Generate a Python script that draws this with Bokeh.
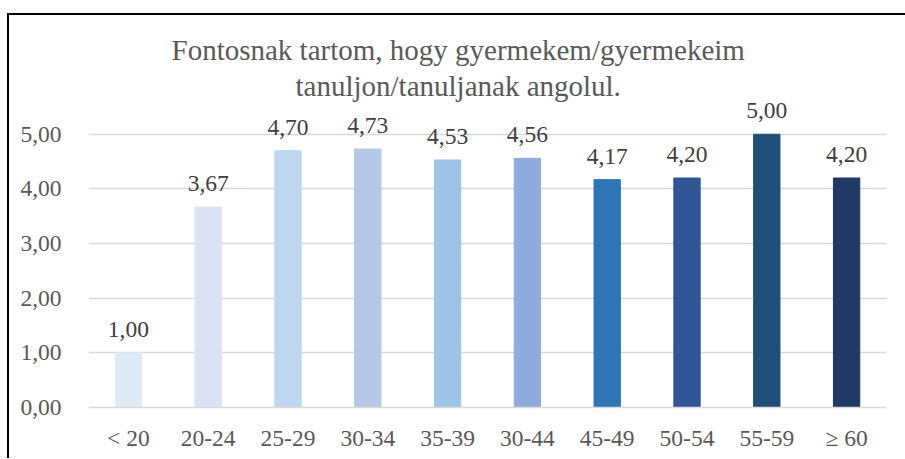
from bokeh.plotting import figure
from bokeh.models import ColumnDataSource, LabelSet, FixedTicker, Range1d, Title
from bokeh.core.properties import value
from bokeh.embed import file_html
from bokeh.resources import INLINE

categories = ["< 20", "20-24", "25-29", "30-34", "35-39", "30-44", "45-49", "50-54", "55-59", "≥ 60"]
values = [1.00, 3.67, 4.70, 4.73, 4.53, 4.56, 4.17, 4.20, 5.00, 4.20]
value_labels = ["1,00", "3,67", "4,70", "4,73", "4,53", "4,56", "4,17", "4,20", "5,00", "4,20"]
colors = ["#DEEBF7", "#DAE3F3", "#BDD7EE", "#B4C7E7", "#9DC3E6",
          "#8FAADC", "#2E75B6", "#2F5597", "#1F4E79", "#203864"]
y_ticks = [0, 1, 2, 3, 4, 5]
y_tick_labels = ["0,00", "1,00", "2,00", "3,00", "4,00", "5,00"]
title_lines = ["Fontosnak tartom, hogy gyermekem/gyermekeim", "tanuljon/tanuljanak angolul."]

FONT = "Liberation Serif"

src = ColumnDataSource(dict(cat=categories, val=values, lbl=value_labels, color=colors))

p = figure(x_range=categories, y_range=Range1d(0, 5.6),
           frame_width=798, frame_height=306,
           min_border_left=79, min_border_right=19, min_border_top=86, min_border_bottom=51,
           output_backend="svg", toolbar_location=None, title=None)
p.styles = {"border-left": "2px solid black", "border-top": "2px solid black",
            "margin-top": "13px", "margin-left": "7px"}
p.outline_line_color = None

p.vbar(x="cat", top="val", width=0.33, color="color", source=src)

labels = LabelSet(x="cat", y="val", text="lbl", source=src, text_align="center",
                  text_baseline="alphabetic", y_offset=16,
                  text_font=value(FONT), text_font_size=value("23.5px"), text_color="#404040")
p.add_layout(labels)

# second line first (closest to frame), then first line
p.add_layout(Title(text=title_lines[1], align="left", offset=207, standoff=0,
                   padding=(0, 0, 2, 0),
                   text_font=FONT, text_font_size="29px", text_font_style="normal",
                   text_color="#595959"), "above")
p.add_layout(Title(text=title_lines[0], align="left", offset=83, standoff=0,
                   text_font=FONT, text_font_size="29px", text_font_style="normal",
                   text_color="#595959"), "above")

p.xgrid.grid_line_color = None
p.ygrid.grid_line_color = "#D9D9D9"
p.ygrid.grid_line_width = 1.5

p.yaxis.ticker = FixedTicker(ticks=y_ticks)
p.yaxis.major_label_overrides = dict(zip(y_ticks, y_tick_labels))
p.yaxis.axis_line_color = None
p.yaxis.major_tick_line_color = None
p.yaxis.minor_tick_line_color = None
p.yaxis.major_label_standoff = 21

p.xaxis.axis_line_color = "#D9D9D9"
p.xaxis.axis_line_width = 1.5
p.xaxis.major_tick_line_color = None
p.xaxis.major_label_standoff = 11

for ax in (p.xaxis[0], p.yaxis[0]):
    ax.major_label_text_font = FONT
    ax.major_label_text_font_size = "23.5px"
    ax.major_label_text_color = "#595959"

open("out.html", "w").write(file_html(p, INLINE))
